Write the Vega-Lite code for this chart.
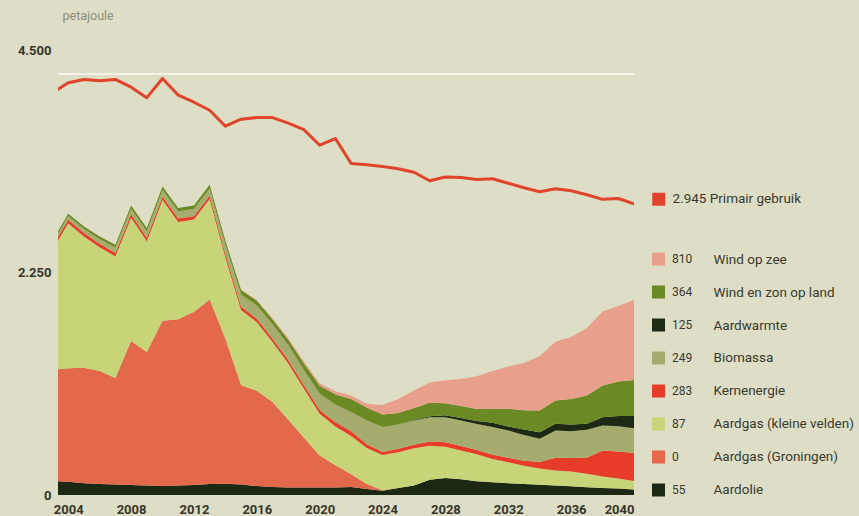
{
  "$schema": "https://vega.github.io/schema/vega-lite/v6.json",
  "width": 576,
  "height": 445,
  "autosize": {"type": "none"},
  "padding": {"left": 58, "top": 50, "right": 225, "bottom": 21},
  "background": "#dddec5",
  "config": {
    "view": {"stroke": null},
    "font": "Roboto",
    "legend": {"padding": 0, "titlePadding": 0}
  },
  "datasets": {
    "reeks": [
      {"key": "olie", "serie": "Aardolie", "volgorde": 1},
      {"key": "groningen", "serie": "Aardgas (Groningen)", "volgorde": 2},
      {"key": "kleine", "serie": "Aardgas (kleine velden)", "volgorde": 3},
      {"key": "kern", "serie": "Kernenergie", "volgorde": 4},
      {"key": "bio", "serie": "Biomassa", "volgorde": 5},
      {"key": "warmte", "serie": "Aardwarmte", "volgorde": 6},
      {"key": "zon", "serie": "Wind en zon op land", "volgorde": 7},
      {"key": "zee", "serie": "Wind op zee", "volgorde": 8}
    ]
  },
  "data": {
    "values": [
      {"jaar": 2003, "primair": 4069, "olie": 140, "groningen": 1125, "kleine": 1215, "kern": 35, "bio": 35, "warmte": 0, "zon": 20, "zee": 0},
      {"jaar": 2004, "primair": 4169, "olie": 135, "groningen": 1147, "kleine": 1467, "kern": 35, "bio": 38, "warmte": 0, "zon": 22, "zee": 0},
      {"jaar": 2005, "primair": 4202, "olie": 120, "groningen": 1168, "kleine": 1326, "kern": 35, "bio": 42, "warmte": 0, "zon": 24, "zee": 0},
      {"jaar": 2006, "primair": 4188, "olie": 110, "groningen": 1145, "kleine": 1251, "kern": 35, "bio": 48, "warmte": 0, "zon": 25, "zee": 0},
      {"jaar": 2007, "primair": 4202, "olie": 105, "groningen": 1079, "kleine": 1229, "kern": 35, "bio": 55, "warmte": 0, "zon": 27, "zee": 0},
      {"jaar": 2008, "primair": 4124, "olie": 100, "groningen": 1458, "kleine": 1245, "kern": 35, "bio": 60, "warmte": 0, "zon": 30, "zee": 0},
      {"jaar": 2009, "primair": 4018, "olie": 95, "groningen": 1352, "kleine": 1120, "kern": 35, "bio": 65, "warmte": 0, "zon": 32, "zee": 0},
      {"jaar": 2010, "primair": 4212, "olie": 90, "groningen": 1671, "kleine": 1221, "kern": 35, "bio": 70, "warmte": 0, "zon": 33, "zee": 0},
      {"jaar": 2011, "primair": 4043, "olie": 95, "groningen": 1681, "kleine": 984, "kern": 35, "bio": 72, "warmte": 0, "zon": 34, "zee": 0},
      {"jaar": 2012, "primair": 3972, "olie": 100, "groningen": 1752, "kleine": 933, "kern": 35, "bio": 72, "warmte": 0, "zon": 36, "zee": 0},
      {"jaar": 2013, "primair": 3891, "olie": 110, "groningen": 1868, "kleine": 1014, "kern": 35, "bio": 72, "warmte": 0, "zon": 38, "zee": 0},
      {"jaar": 2014, "primair": 3729, "olie": 115, "groningen": 1465, "kleine": 820, "kern": 35, "bio": 95, "warmte": 0, "zon": 40, "zee": 0},
      {"jaar": 2015, "primair": 3800, "olie": 105, "groningen": 1005, "kleine": 762, "kern": 35, "bio": 120, "warmte": 0, "zon": 45, "zee": 3},
      {"jaar": 2016, "primair": 3817, "olie": 90, "groningen": 965, "kleine": 692, "kern": 35, "bio": 135, "warmte": 0, "zon": 48, "zee": 8},
      {"jaar": 2017, "primair": 3817, "olie": 80, "groningen": 860, "kleine": 606, "kern": 35, "bio": 145, "warmte": 0, "zon": 50, "zee": 12},
      {"jaar": 2018, "primair": 3760, "olie": 75, "groningen": 685, "kleine": 571, "kern": 35, "bio": 150, "warmte": 0, "zon": 55, "zee": 15},
      {"jaar": 2019, "primair": 3694, "olie": 75, "groningen": 505, "kleine": 494, "kern": 35, "bio": 155, "warmte": 0, "zon": 65, "zee": 20},
      {"jaar": 2020, "primair": 3537, "olie": 75, "groningen": 325, "kleine": 422, "kern": 38, "bio": 165, "warmte": 0, "zon": 80, "zee": 25},
      {"jaar": 2021, "primair": 3605, "olie": 75, "groningen": 225, "kleine": 393, "kern": 42, "bio": 180, "warmte": 0, "zon": 105, "zee": 30},
      {"jaar": 2022, "primair": 3352, "olie": 80, "groningen": 130, "kleine": 387, "kern": 48, "bio": 195, "warmte": 0, "zon": 130, "zee": 35},
      {"jaar": 2023, "primair": 3340, "olie": 60, "groningen": 50, "kleine": 366, "kern": 38, "bio": 240, "warmte": 0, "zon": 130, "zee": 40},
      {"jaar": 2024, "primair": 3321, "olie": 42, "groningen": 5, "kleine": 357, "kern": 30, "bio": 253, "warmte": 0, "zon": 128, "zee": 95},
      {"jaar": 2025, "primair": 3299, "olie": 70, "groningen": 0, "kleine": 362, "kern": 35, "bio": 245, "warmte": 0, "zon": 118, "zee": 140},
      {"jaar": 2026, "primair": 3264, "olie": 96, "groningen": 0, "kleine": 376, "kern": 37, "bio": 245, "warmte": 5, "zon": 122, "zee": 175},
      {"jaar": 2027, "primair": 3178, "olie": 155, "groningen": 0, "kleine": 342, "kern": 45, "bio": 245, "warmte": 10, "zon": 135, "zee": 205},
      {"jaar": 2028, "primair": 3216, "olie": 172, "groningen": 0, "kleine": 315, "kern": 47, "bio": 252, "warmte": 20, "zon": 122, "zee": 232},
      {"jaar": 2029, "primair": 3210, "olie": 160, "groningen": 0, "kleine": 290, "kern": 46, "bio": 258, "warmte": 25, "zon": 122, "zee": 272},
      {"jaar": 2030, "primair": 3191, "olie": 138, "groningen": 0, "kleine": 273, "kern": 45, "bio": 262, "warmte": 30, "zon": 122, "zee": 330},
      {"jaar": 2031, "primair": 3198, "olie": 128, "groningen": 0, "kleine": 235, "kern": 45, "bio": 280, "warmte": 42, "zon": 140, "zee": 385},
      {"jaar": 2032, "primair": 3152, "olie": 120, "groningen": 0, "kleine": 212, "kern": 44, "bio": 276, "warmte": 41, "zon": 179, "zee": 428},
      {"jaar": 2033, "primair": 3107, "olie": 112, "groningen": 0, "kleine": 185, "kern": 50, "bio": 260, "warmte": 55, "zon": 196, "zee": 477},
      {"jaar": 2034, "primair": 3066, "olie": 103, "groningen": 0, "kleine": 165, "kern": 65, "bio": 236, "warmte": 65, "zon": 220, "zee": 551},
      {"jaar": 2035, "primair": 3097, "olie": 96, "groningen": 0, "kleine": 152, "kern": 128, "bio": 276, "warmte": 68, "zon": 236, "zee": 594},
      {"jaar": 2036, "primair": 3076, "olie": 89, "groningen": 0, "kleine": 148, "kern": 138, "bio": 270, "warmte": 67, "zon": 260, "zee": 627},
      {"jaar": 2037, "primair": 3036, "olie": 79, "groningen": 0, "kleine": 135, "kern": 162, "bio": 283, "warmte": 61, "zon": 287, "zee": 683},
      {"jaar": 2038, "primair": 2990, "olie": 72, "groningen": 0, "kleine": 115, "kern": 263, "bio": 253, "warmte": 84, "zon": 321, "zee": 747},
      {"jaar": 2039, "primair": 2998, "olie": 65, "groningen": 0, "kleine": 102, "kern": 272, "bio": 255, "warmte": 105, "zon": 350, "zee": 761},
      {"jaar": 2040, "primair": 2945, "olie": 55, "groningen": 0, "kleine": 87, "kern": 283, "bio": 249, "warmte": 125, "zon": 364, "zee": 810}
    ]
  },
  "layer": [
    {
      "transform": [
        {"fold": ["olie", "groningen", "kleine", "kern", "bio", "warmte", "zon", "zee"], "as": ["key", "pj"]},
        {"lookup": "key", "from": {"data": {"name": "reeks"}, "key": "key", "fields": ["serie", "volgorde"]}}
      ],
      "mark": {"type": "area", "clip": true, "interpolate": "linear"},
      "encoding": {
        "x": {
          "field": "jaar", "type": "quantitative",
          "scale": {"domain": [2003.35, 2040], "nice": false, "zero": false},
          "axis": {
            "values": [2004, 2008, 2012, 2016, 2020, 2024, 2028, 2032, 2036, 2040],
            "format": "d", "title": null, "domain": false, "ticks": false, "grid": false,
            "labelFontSize": 13, "labelColor": "#35352d", "labelFontWeight": "bold", "labelPadding": 8
          }
        },
        "y": {
          "field": "pj", "type": "quantitative", "stack": "zero",
          "scale": {"domain": [0, 4500], "nice": false},
          "axis": {
            "values": [0, 2250, 4500],
            "labelExpr": "replace(format(datum.value, ','), ',', '.')",
            "title": "petajoule", "titleAngle": 0, "titleAlign": "left", "titleBaseline": "middle",
            "titleX": 4, "titleY": -35, "titleFontSize": 12.5, "titleFontWeight": "normal", "titleColor": "#8f8f80",
            "domain": false, "ticks": false, "grid": false,
            "labelFontSize": 13, "labelColor": "#35352d", "labelFontWeight": "bold", "labelPadding": 7
          }
        },
        "order": {"field": "volgorde", "type": "quantitative", "sort": "ascending"},
        "fill": {
          "field": "key", "type": "nominal",
          "scale": {
            "domain": ["zee", "zon", "warmte", "bio", "kern", "kleine", "groningen", "olie"],
            "range": ["#e8a08c", "#6b8a24", "#1e2a16", "#a5ac6e", "#e63c28", "#c8d478", "#e4694b", "#1c2814"]
          },
          "legend": {
            "orient": "none", "legendX": 594, "legendY": 202.5, "title": null,
            "symbolType": "square", "symbolSize": 169, "symbolStrokeWidth": 0,
            "labelExpr": "datum.label == 'zee' ? '810' : datum.label == 'zon' ? '364' : datum.label == 'warmte' ? '125' : datum.label == 'bio' ? '249' : datum.label == 'kern' ? '283' : datum.label == 'kleine' ? '87' : datum.label == 'groningen' ? '0' : '55'",
            "labelOffset": 7, "rowPadding": 20, "labelFontSize": 12, "labelColor": "#3a3a30"
          }
        },
        "opacity": {
          "field": "serie", "type": "ordinal",
          "sort": ["Wind op zee", "Wind en zon op land", "Aardwarmte", "Biomassa", "Kernenergie", "Aardgas (kleine velden)", "Aardgas (Groningen)", "Aardolie"],
          "scale": {"range": [1, 1]},
          "legend": {
            "orient": "none", "legendX": 638, "legendY": 203, "title": null,
            "symbolType": "square", "symbolSize": 169,
            "symbolFillColor": "transparent", "symbolStrokeColor": "transparent", "symbolStrokeWidth": 0,
            "labelOffset": 4, "rowPadding": 17.9, "labelFontSize": 13.5, "labelColor": "#3a3a30"
          }
        }
      }
    },
    {
      "mark": {"type": "rule", "color": "#f4f4ea", "strokeWidth": 1.5},
      "encoding": {"y": {"datum": 4260}}
    },
    {
      "mark": {"type": "line", "strokeWidth": 3, "clip": true, "strokeJoin": "round", "strokeCap": "round"},
      "encoding": {
        "x": {"field": "jaar", "type": "quantitative"},
        "y": {"field": "primair", "type": "quantitative"},
        "stroke": {
          "datum": "Primair gebruik",
          "scale": {"domain": ["Primair gebruik"], "range": ["#e0452b"]},
          "legend": {
            "orient": "none", "legendX": 594, "legendY": 142.5, "title": null,
            "symbolType": "square", "symbolSize": 169, "symbolFillColor": "#e0452b", "symbolStrokeColor": "#e0452b", "symbolStrokeWidth": 0,
            "labelExpr": "'2.945 Primair gebruik'",
            "labelOffset": 7, "labelFontSize": 13.5, "labelColor": "#3a3a30"
          }
        }
      }
    }
  ]
}
